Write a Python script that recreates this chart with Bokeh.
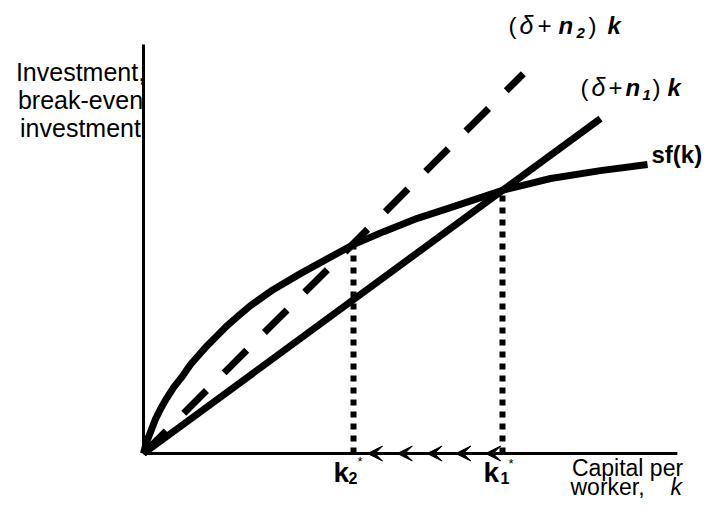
from bokeh.plotting import figure
from bokeh.models import Range1d, Label, Arrow, VeeHead, ColumnDataSource
from bokeh.embed import file_html
from bokeh.resources import INLINE

# ---- data (units: capital per worker k, investment) ----
k_vals = [0, 0.08, 0.2, 0.33, 0.47, 0.64, 0.84, 1.06, 1.31, 1.53, 1.78, 2.06,
          2.34, 2.65, 2.98, 3.62, 4.37, 5.13, 5.85,
          6.69, 7.63, 8.55, 10.0, 11.34, 12.73, 14.04]
sf_vals = [0, 0.31, 0.61, 0.95, 1.23, 1.53, 1.84, 2.12, 2.48, 2.73, 3.01, 3.29,
           3.57, 3.84, 4.12, 4.57, 5.01, 5.43, 5.82,
           6.18, 6.55, 6.85, 7.33, 7.66, 7.88, 8.05]
n1_k = [0, 12.73]
n1_inv = [0, 9.33]
n2_k = [0, 10.58]
n2_inv = [0, 10.58]
k_star = [5.85, 10.0]          # k2*, k1*
inv_star = [5.82, 7.33]
arrow_k = [6.24, 7.07, 7.9, 8.7, 9.53]
k_max = 14.87
inv_max = 11.39

FONT = "Liberation Sans"
S = 35.9          # pixels per unit
OX, OY = 143, 453 # origin in picture pixels


def dx(X):
    return (X - OX) / S


def dy(Y):
    return (OY - Y) / S


W, H = 703, 500
p = figure(width=W, height=H, output_backend="svg", toolbar_location=None,
           x_range=Range1d(dx(0), dx(W)), y_range=Range1d(dy(H), dy(0)),
           min_border=0, x_axis_type=None, y_axis_type=None)
p.grid.visible = False
p.outline_line_color = None
p.background_fill_color = "white"
p.border_fill_color = "white"

# axes
p.line([0, 0], [0, inv_max], line_color="black", line_width=3)
p.line([0, k_max], [0, 0], line_color="black", line_width=3)

# curves
p.line(k_vals, sf_vals, line_color="black", line_width=7, line_join="round")
p.line(n1_k, n1_inv, line_color="black", line_width=7)
p.line(n2_k, n2_inv, line_color="black", line_width=7, line_dash="32 25")

# dotted verticals
p.segment(x0=k_star, y0=[0, 0], x1=k_star, y1=inv_star, line_color="black",
          line_width=6, line_dash="6 6")

# arrows along the k axis
src = ColumnDataSource(dict(xs=[a + 0.4 for a in arrow_k], xe=arrow_k,
                            ys=[0] * len(arrow_k), ye=[0] * len(arrow_k)))
p.add_layout(Arrow(end=VeeHead(size=15, fill_color="black", line_color="black", line_width=1),
                   x_start="xs", y_start="ys", x_end="xe", y_end="ye", source=src,
                   line_alpha=0))


def lab(text, X, Y, size=25, style="normal", align="left"):
    # Y is the wanted baseline; text is placed by its middle
    p.add_layout(Label(x=dx(X), y=dy(Y - 0.35 * size), text=text, text_font=FONT,
                       text_font_size=f"{size}px", text_font_style=style,
                       text_align=align, text_baseline="middle",
                       text_color="black"))


# y-axis title
lab("Investment,", 80, 80, align="center")
lab("break-even", 80, 108, align="center")
lab("investment", 80, 136, align="center")

# x-axis title
lab("Capital per", 627, 476, 23, align="center")
lab("worker,", 570, 495, 23)
lab("k", 670, 495, 23, style="italic")

# (delta + n2) k
lab("(", 508, 33, 24)
lab("δ", 519, 33, 25, "italic")
lab("+", 537, 33, 24)
lab("n", 558, 33, 24, "bold italic")
lab("2", 576, 38, 15, "bold italic")
lab(")", 588, 33, 24)
lab("k", 607, 33, 24, "bold italic")

# (delta + n1) k
lab("(", 580, 95, 24)
lab("δ", 591, 95, 25, "italic")
lab("+", 608, 95, 24)
lab("n", 625, 95, 24, "bold italic")
lab("1", 642, 100, 15, "bold italic")
lab(")", 652, 95, 24)
lab("k", 667, 95, 24, "bold italic")

# sf(k)
lab("sf(k)", 651, 162, 24, "bold")

# k2*, k1*
lab("k", 333, 482, 28, "bold")
lab("2", 348, 483, 16, "bold")
lab("*", 357, 466, 13)
lab("k", 483, 482, 28, "bold")
lab("1", 500, 483, 16, "bold")
lab("*", 508, 468, 13)

open("out.html", "w").write(file_html(p, INLINE))
